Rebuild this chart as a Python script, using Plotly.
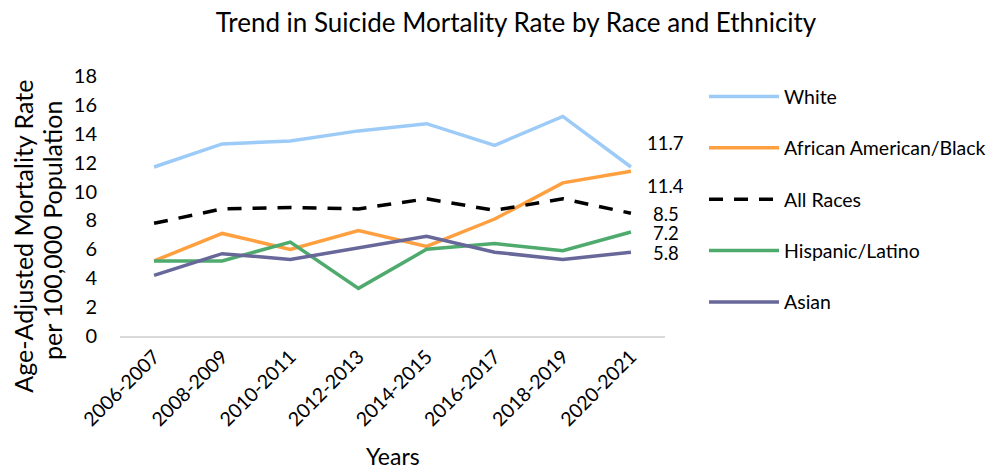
import plotly.graph_objects as go

years = ["2006-2007", "2008-2009", "2010-2011", "2012-2013", "2014-2015",
         "2016-2017", "2018-2019", "2020-2021"]
white = [11.7, 13.3, 13.5, 14.2, 14.7, 13.2, 15.2, 11.7]
black = [5.2, 7.1, 6.0, 7.3, 6.2, 8.1, 10.6, 11.4]
all_races = [7.8, 8.8, 8.9, 8.8, 9.5, 8.7, 9.5, 8.5]
hispanic = [5.2, 5.2, 6.5, 3.3, 6.0, 6.4, 5.9, 7.2]
asian = [4.2, 5.7, 5.3, 6.1, 6.9, 5.8, 5.3, 5.8]

series_names = ["White", "African American/Black", "All Races", "Hispanic/Latino", "Asian"]
series_values = [white, black, all_races, hispanic, asian]
series_colors = ["#9DCBF8", "#FFA040", "#000000", "#4FAA6E", "#67679A"]
series_dash = ["solid", "solid", "14px,11px", "solid", "solid"]
label_yshift = [24, -15, -1, -1, -1]

FONT = "Lato, 'Open Sans', sans-serif"

fig = go.Figure()
for i, (name, vals, col, dash) in enumerate(zip(series_names, series_values, series_colors, series_dash)):
    fig.add_trace(go.Scatter(
        x=years, y=vals, mode="lines", name=name,
        line=dict(color=col, width=3.5, dash=dash),
        legendgroup=name,
    ))
    fig.add_annotation(
        x=years[-1], y=vals[-1], text=f"{vals[-1]:.1f}", showarrow=False,
        xanchor="center", yanchor="middle", xshift=35, yshift=label_yshift[i],
        font=dict(size=18.5, color="#000000", family=FONT),
    )

# y-axis title as two text lines (positioned like the reference)
ytitle_lines = ["Age-Adjusted Mortality Rate", "per 100,000 Population"]
ytitle_x = [-0.178, -0.126]
ytitle_y = [0.386, 0.405]
for txt, xp, yp in zip(ytitle_lines, ytitle_x, ytitle_y):
    fig.add_annotation(
        text=txt, xref="paper", yref="paper", x=xp, y=yp, showarrow=False,
        textangle=-90, xanchor="center", yanchor="middle",
        font=dict(size=25, color="#000000", family=FONT),
    )

# x-axis title
fig.add_annotation(
    text="Years", xref="paper", yref="paper", x=0.5, y=-0.46, showarrow=False,
    xanchor="center", yanchor="middle",
    font=dict(size=23, color="#000000", family=FONT),
)

fig.update_layout(
    width=987, height=461,
    margin=dict(l=112, r=330, t=68, b=133, autoexpand=False),
    paper_bgcolor="white", plot_bgcolor="white",
    font=dict(family=FONT, color="#000000"),
    title=dict(text="Trend in Suicide Mortality Rate by Race and Ethnicity",
               x=0.5147, xref="container", xanchor="center",
               y=0.967, yref="container", yanchor="middle",
               font=dict(size=26, color="#000000")),
    showlegend=True,
    legend=dict(x=1.0716, xanchor="left", y=0.995, yanchor="top",
                font=dict(size=19.5), tracegroupgap=23, itemwidth=70,
                maxheight=450, bgcolor="rgba(0,0,0,0)"),
    xaxis=dict(
        type="category", range=[-0.5, 7.5], autorange=False,
        showgrid=False, showline=True, linecolor="#D9D9D9",
        linewidth=1.5, tickangle=-45, tickfont=dict(size=19.5), ticks="",
        zeroline=False,
    ),
    yaxis=dict(
        range=[0, 18], dtick=2, showgrid=False, zeroline=False, showline=False,
        tickfont=dict(size=20), ticks="", ticklabelstandoff=22,
    ),
)

fig.write_html("out.html")
